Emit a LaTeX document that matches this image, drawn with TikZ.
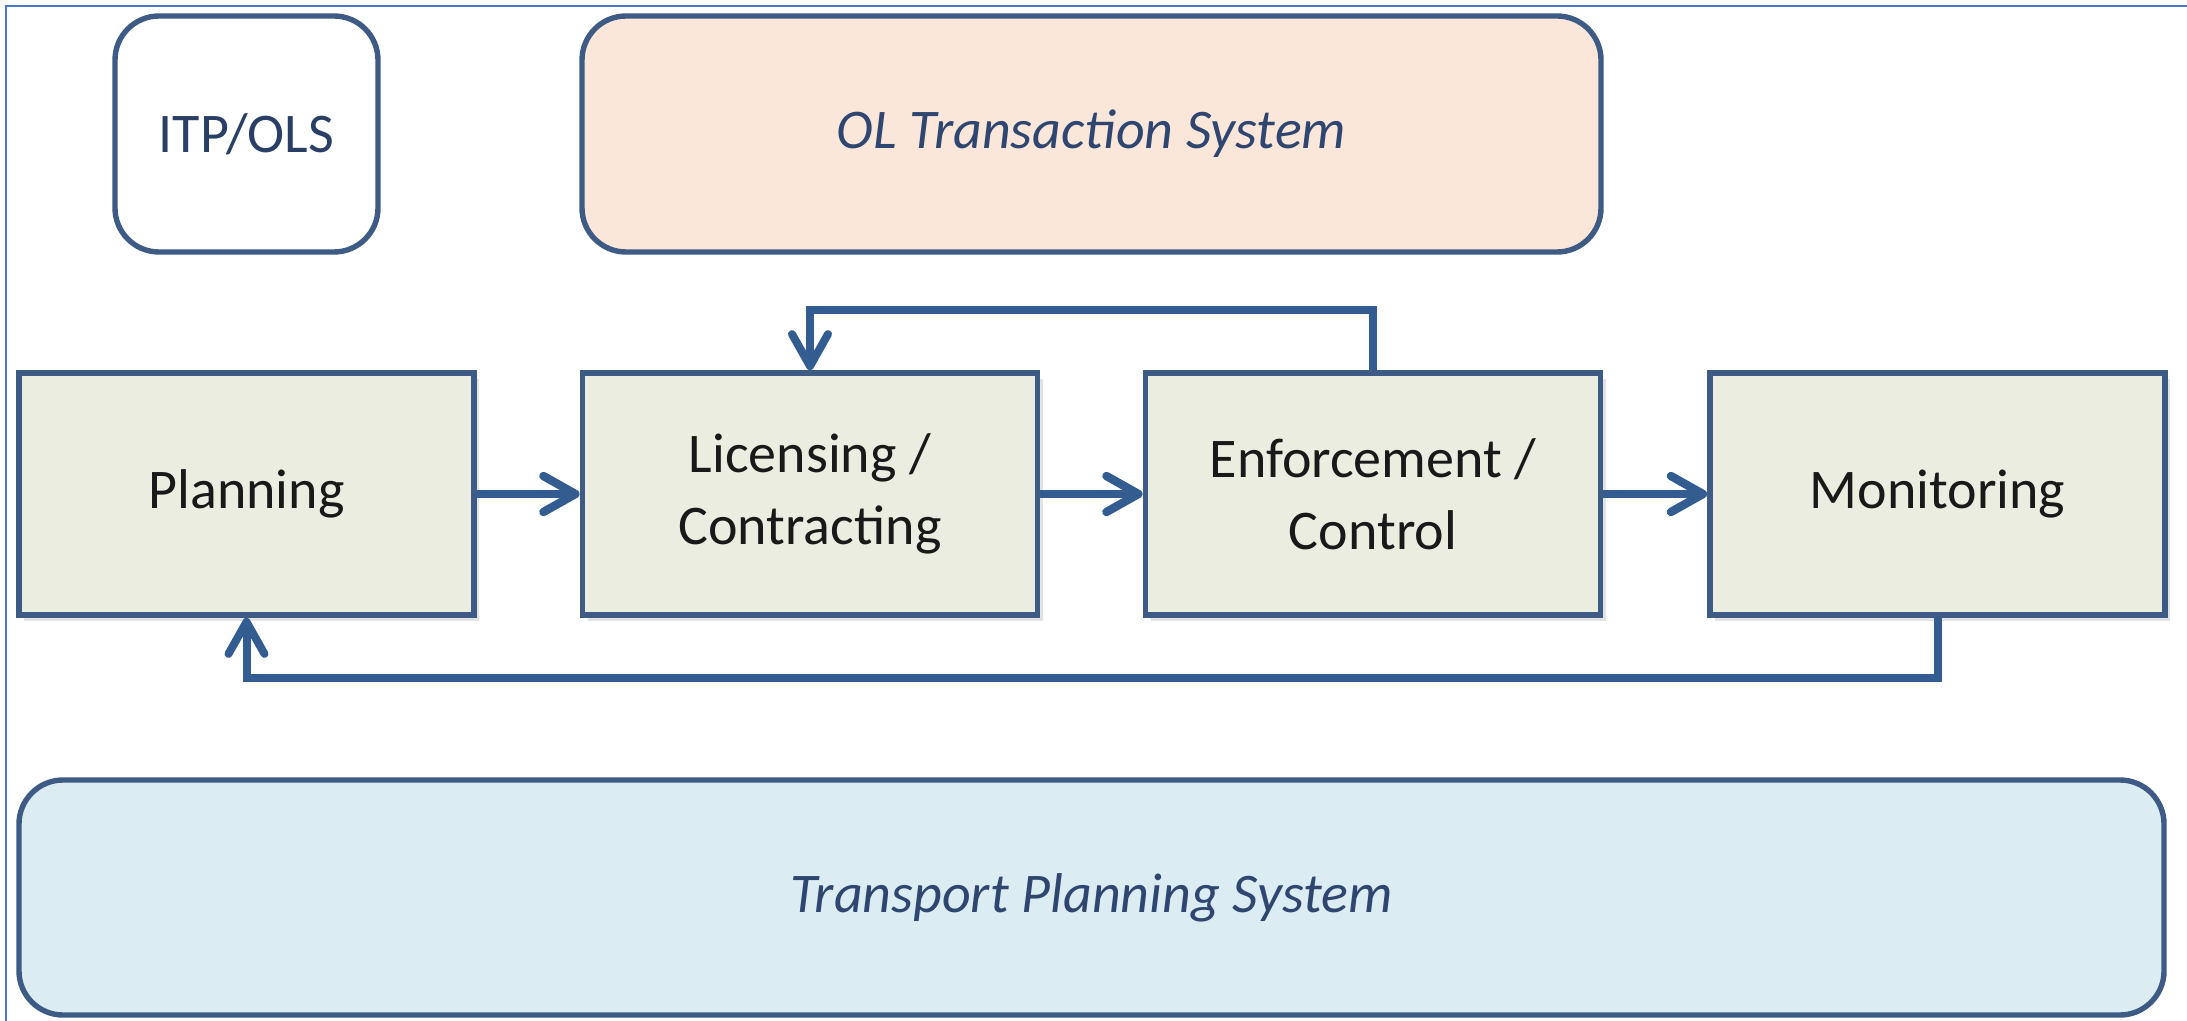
\documentclass[tikz,border=0pt]{standalone}
\usepackage{fontspec}
\setmainfont{Carlito}
\usetikzlibrary{arrows.meta,shadows}
\definecolor{edge}{HTML}{3D5B85}
\definecolor{arrowc}{HTML}{335C90}
\definecolor{procfill}{HTML}{EBEDE0}
\definecolor{olfill}{HTML}{FBE7D9}
\definecolor{tpsfill}{HTML}{DBECF3}
\definecolor{frame}{HTML}{4A78CC}
\definecolor{systext}{HTML}{2E4670}
\tikzset{
  proc/.style={draw=edge, line width=2.9pt, fill=procfill, rectangle,
    minimum width=227.5pt, minimum height=121pt, inner sep=0pt, align=center,
    font=\fontsize{28}{36}\selectfont, text=black!90,
    drop shadow={opacity=0.22, shadow xshift=2.5pt, shadow yshift=-3pt}},
  sysbox/.style={draw=edge, line width=2.7pt, rounded corners=22pt, inner sep=0pt,
    align=center, font=\fontsize{28}{36}\selectfont},
  flow/.style={draw=arrowc, line width=4.2pt,
    -{Straight Barb[length=16pt, width=18pt, round]}},
  loopline/.style={draw=arrowc, line width=4pt,
    -{Straight Barb[length=16pt, width=18pt, round]}},
}
\begin{document}
\begin{tikzpicture}[x=0.5pt, y=-0.5pt]
\useasboundingbox (0,0) rectangle (2187,1021);
\fill[white] (0,0) rectangle (2187,1021);
% outer frame lines
\draw[frame, line width=1.3pt] (6,1021) -- (6,6) -- (2187,6);

% top boxes
\node[sysbox, fill=white, minimum width=131.5pt, minimum height=118pt, text=systext!90!black]
  (itp) at (246.5,134) {ITP/OLS};
\node[sysbox, fill=olfill, minimum width=509.5pt, minimum height=118pt, text=systext,
  font=\fontsize{28}{36}\selectfont\itshape]
  (ol) at (1091.5,134) {OL Transaction System};

% process boxes
\node[proc] (plan) at (246.5,494) {Planning};
\node[proc] (lic) at (810,494) {Licensing /\\Contracting};
\node[proc] (enf) at (1373,494) {Enforcement /\\Control};
\node[proc] (mon) at (1937.5,494) {Monitoring};

% bottom system
\node[sysbox, fill=tpsfill, minimum width=1072.5pt, minimum height=117.5pt, text=systext,
  font=\fontsize{28}{36}\selectfont\itshape]
  (tps) at (1091.5,897.5) {Transport Planning System};

% forward arrows
\draw[flow] (plan.east) -- (lic.west);
\draw[flow] (lic.east) -- (enf.west);
\draw[flow] (enf.east) -- (mon.west);

% feedback loops
\draw[loopline, line join=miter] (enf.north) -- ++(0,-60) -| (lic.north);
\draw[loopline, line join=miter] (mon.south) -- ++(0,60) -| (plan.south);
\end{tikzpicture}
\end{document}
